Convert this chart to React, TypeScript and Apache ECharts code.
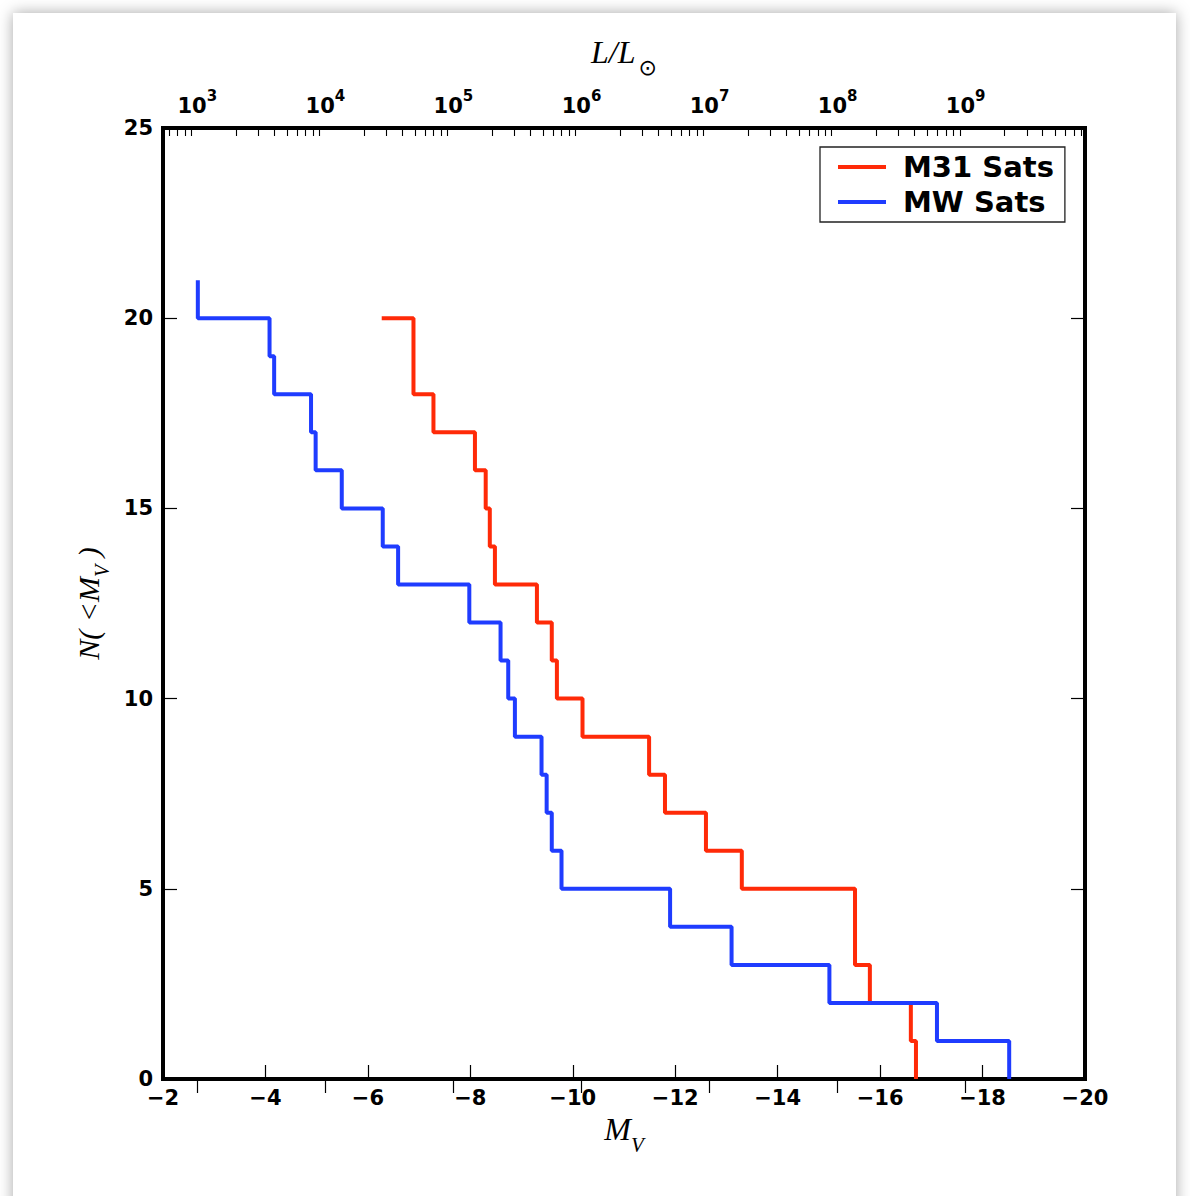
import React, { useEffect, useRef } from "react";
import * as echarts from "echarts";

// Cumulative luminosity functions: absolute V magnitude vs N(<M_V)
const m31Mag = [-6.27, -6.89, -7.28, -8.09, -8.3, -8.38, -8.48, -9.3, -9.59, -9.69, -10.19, -11.49, -11.8, -12.6, -13.3, -15.51, -15.8, -16.6, -16.7];
const m31N = [20, 18, 17, 16, 15, 14, 13, 12, 11, 10, 9, 8, 7, 6, 5, 3, 2, 1, 0];
const mwMag = [-2.68, -2.68, -4.08, -4.17, -4.89, -4.98, -5.49, -6.29, -6.59, -7.98, -8.59, -8.74, -8.87, -9.39, -9.49, -9.59, -9.78, -11.9, -13.1, -15.01, -17.11, -18.52];
const mwN = [21, 20, 19, 18, 17, 16, 15, 14, 13, 12, 11, 10, 9, 8, 7, 6, 5, 4, 3, 2, 1, 0];

const mvMin = -20;
const mvMax = -2;
const mvInterval = 2;
const nMin = 0;
const nMax = 25;
const nInterval = 5;
const lumExponents = [3, 4, 5, 6, 7, 8, 9];
const minorMultipliers = [2, 3, 4, 5, 6, 7, 8, 9];
const SUN_ABS_MAG = 4.83;

const seriesNames = ["M31 Sats", "MW Sats"];
const RED = "#ff2a08";
const BLUE = "#1f3cff";

const lumMin = (SUN_ABS_MAG - mvMax) / 2.5;
const lumMax = (SUN_ABS_MAG - mvMin) / 2.5;

const minorLumTicks: number[] = [];
for (let n = 2; n <= 9; n++) {
  for (const k of minorMultipliers) {
    const v = n + Math.log10(k);
    if (v > lumMin && v < lumMax) minorLumTicks.push(v);
  }
}

const TICK_FONT = "'DejaVu Sans', sans-serif";
const SERIF = "'Liberation Serif', 'DejaVu Serif', serif";

export default function App() {
  const ref = useRef<HTMLDivElement>(null);

  useEffect(() => {
    if (!ref.current) return;
    const chart = echarts.init(ref.current, undefined, { renderer: "svg" });

    const m31Data = m31Mag.map((m, i) => [m, m31N[i]]);
    const mwData = mwMag.map((m, i) => [m, mwN[i]]);

    const option: any = {
      animation: false,
      backgroundColor: "transparent",
      grid: {
        left: 163,
        right: 105,
        top: 128,
        bottom: 117,
        show: true,
        borderColor: "#000",
        borderWidth: 4,
        backgroundColor: "transparent",
      },
      legend: {
        orient: "vertical",
        left: 820,
        top: 147,
        data: seriesNames,
        icon: "rect",
        itemWidth: 48,
        itemHeight: 4,
        itemGap: 5,
        padding: [5, 11, 5, 18],
        borderColor: "#222",
        borderWidth: 1.3,
        backgroundColor: "#fff",
        textStyle: {
          fontFamily: TICK_FONT,
          fontWeight: "bold",
          fontSize: 29,
          lineHeight: 30,
          color: "#000",
          padding: [0, 0, 0, 12],
        },
      },
      xAxis: [
        {
          type: "value",
          position: "bottom",
          min: mvMin,
          max: mvMax,
          interval: mvInterval,
          inverse: true,
          axisLine: { show: false },
          axisTick: { show: true, inside: true, length: 14, lineStyle: { color: "#000", width: 1.2 } },
          splitLine: { show: false },
          axisLabel: {
            margin: 10,
            lineHeight: 18,
            fontFamily: TICK_FONT,
            fontWeight: "bold",
            fontSize: 21,
            color: "#000",
            formatter: (v: number) => String(v).replace("-", "\u2212"),
          },
          name: "{i|M}{s|V}",
          nameLocation: "middle",
          nameGap: 32,
          nameTextStyle: {
            rich: {
              i: { fontFamily: SERIF, fontStyle: "italic", fontSize: 32, color: "#000", verticalAlign: "top", lineHeight: 34 },
              s: { fontFamily: SERIF, fontStyle: "italic", fontSize: 21, color: "#000", verticalAlign: "bottom", lineHeight: 34, padding: [0, 0, -8, 0] },
            },
          },
        },
        {
          type: "value",
          position: "top",
          min: lumMin,
          max: lumMax,
          axisLine: { show: false },
          splitLine: { show: false },
          axisTick: {
            show: true,
            inside: true,
            length: 14,
            customValues: lumExponents,
            lineStyle: { color: "#000", width: 1.2 },
          },
          axisLabel: {
            show: true,
            margin: 12,
            customValues: lumExponents,
            formatter: (v: number) => `{b|10}{s|${Math.round(v)}}`,
            rich: {
              b: { fontFamily: TICK_FONT, fontWeight: "bold", fontSize: 21, color: "#000", verticalAlign: "bottom", lineHeight: 28 },
              s: { fontFamily: TICK_FONT, fontWeight: "bold", fontSize: 15, color: "#000", verticalAlign: "top", lineHeight: 15 },
            },
          },
          name: "{i|L/L}{s|\u2299}",
          nameLocation: "middle",
          nameGap: 58,
          nameTextStyle: {
            rich: {
              i: { fontFamily: SERIF, fontStyle: "italic", fontSize: 32, color: "#000", verticalAlign: "top", lineHeight: 34 },
              s: { fontFamily: "'DejaVu Sans', sans-serif", fontSize: 22, color: "#000", verticalAlign: "bottom", lineHeight: 34, padding: [0, 0, -8, 3] },
            },
          },
        },
        {
          type: "value",
          position: "top",
          min: lumMin,
          max: lumMax,
          axisLine: { show: false },
          splitLine: { show: false },
          axisLabel: { show: false },
          axisTick: {
            show: true,
            inside: true,
            length: 8,
            customValues: minorLumTicks,
            lineStyle: { color: "#000", width: 1.1 },
          },
        },
      ],
      yAxis: [
        {
          type: "value",
          position: "left",
          min: nMin,
          max: nMax,
          interval: nInterval,
          axisLine: { show: false },
          splitLine: { show: false },
          axisTick: { show: true, inside: true, length: 14, lineStyle: { color: "#000", width: 1.2 } },
          axisLabel: {
            margin: 10,
            lineHeight: 18,
            fontFamily: TICK_FONT,
            fontWeight: "bold",
            fontSize: 21,
            color: "#000",
          },
          name: "{i|N( <M}{s|V}{i| )}",
          nameLocation: "middle",
          nameGap: 58,
          nameTextStyle: {
            rich: {
              i: { fontFamily: SERIF, fontStyle: "italic", fontSize: 30, color: "#000", verticalAlign: "top", lineHeight: 32 },
              s: { fontFamily: SERIF, fontStyle: "italic", fontSize: 20, color: "#000", verticalAlign: "bottom", lineHeight: 32, padding: [0, 0, -7, 0] },
            },
          },
        },
        {
          type: "value",
          position: "right",
          min: nMin,
          max: nMax,
          interval: nInterval,
          axisLine: { show: false },
          splitLine: { show: false },
          axisLabel: { show: false },
          axisTick: { show: true, inside: true, length: 14, lineStyle: { color: "#000", width: 1.2 } },
        },
      ],
      series: [
        {
          name: seriesNames[0],
          type: "line",
          xAxisIndex: 0,
          yAxisIndex: 0,
          step: "end",
          symbol: "none",
          data: m31Data,
          lineStyle: { color: RED, width: 4 },
          itemStyle: { color: RED },
          z: 3,
        },
        {
          name: seriesNames[1],
          type: "line",
          xAxisIndex: 0,
          yAxisIndex: 0,
          step: "end",
          symbol: "none",
          data: mwData,
          lineStyle: { color: BLUE, width: 4 },
          itemStyle: { color: BLUE },
          z: 4,
        },
      ],
    };

    chart.setOption(option);
    return () => {
      chart.dispose();
    };
  }, []);

  return (
    <div
      style={{
        position: "fixed",
        left: 0,
        top: 0,
        width: 1190,
        height: 1196,
        background: "#fff",
        overflow: "hidden",
      }}
    >
      <div
        style={{
          position: "absolute",
          left: 13,
          top: 13,
          width: 1163,
          height: 1300,
          background: "#fff",
          boxShadow: "0 0 14px rgba(0,0,0,0.35)",
        }}
      />
      <div ref={ref} style={{ position: "absolute", left: 0, top: 0, width: 1190, height: 1196 }} />
    </div>
  );
}
